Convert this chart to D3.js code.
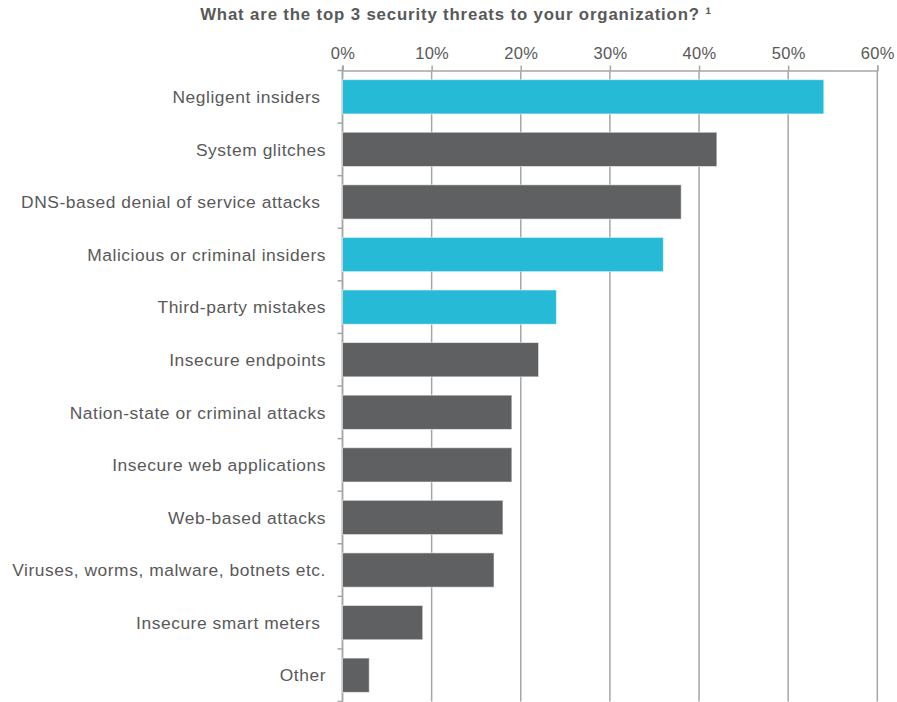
<!DOCTYPE html>
<html>
<head>
<meta charset="utf-8">
<script src="https://cdn.jsdelivr.net/npm/d3@7"></script>
<style>
  html, body { margin: 0; padding: 0; background: #ffffff; }
  svg { display: block; }
  text { font-family: "Liberation Sans", Arial, sans-serif; fill: #595959; }
</style>
</head>
<body>
<svg id="chart" width="897" height="702"></svg>
<script>
const title = "What are the top 3 security threats to your organization? \u00B9";
const categories = [
  "Negligent insiders ",
  "System glitches",
  "DNS-based denial of service attacks ",
  "Malicious or criminal insiders",
  "Third-party mistakes",
  "Insecure endpoints",
  "Nation-state or criminal attacks",
  "Insecure web applications",
  "Web-based attacks",
  "Viruses, worms, malware, botnets etc.",
  "Insecure smart meters ",
  "Other"
];
const values = [0.54, 0.42, 0.38, 0.36, 0.24, 0.22, 0.19, 0.19, 0.18, 0.17, 0.09, 0.03];
const highlighted = ["Negligent insiders ", "Malicious or criminal insiders", "Third-party mistakes"];
const tickValues = [0, 0.1, 0.2, 0.3, 0.4, 0.5, 0.6];

const data = categories.map((c, i) => ({ cat: c, value: values[i] }));

const svg = d3.select("#chart");
const mLeft = 342.5, mRight = 877.3, mTop = 70.5, mBottom = 701.5;

const x = d3.scaleLinear().domain([0, 0.6]).range([mLeft, mRight]);
const y = d3.scaleBand().domain(categories).range([mTop, mBottom])
  .paddingInner(0.348).paddingOuter(0.174);

// title
svg.append("text")
  .attr("x", 456).attr("y", 20)
  .attr("text-anchor", "middle")
  .style("font-weight", "bold")
  .style("font-size", "16.8px")
  .style("letter-spacing", "0.85px")
  .text(title);

// vertical gridlines
svg.append("g").selectAll("line").data(tickValues).join("line")
  .attr("x1", d => x(d)).attr("x2", d => x(d))
  .attr("y1", mTop).attr("y2", mBottom)
  .attr("stroke", "#a6a6a6").attr("stroke-width", 1.5);

// top axis
const xAxis = d3.axisTop(x).tickValues(tickValues)
  .tickFormat(d3.format(".0%")).tickSize(5).tickPadding(7);
const gx = svg.append("g").attr("transform", `translate(0,${mTop})`).call(xAxis);
gx.select(".domain").attr("stroke", "#a6a6a6").attr("stroke-width", 1.5);
gx.selectAll(".tick line").attr("stroke", "#a6a6a6").attr("stroke-width", 1.5);
gx.selectAll(".tick text")
  .style("font-family", "'Liberation Sans', Arial, sans-serif")
  .style("font-size", "16.5px").style("letter-spacing", "0.3px")
  .attr("fill", "#595959");

// left category axis line + ticks at band boundaries
const boundaries = d3.range(categories.length + 1).map(i => mTop + i * y.step());
svg.append("line")
  .attr("x1", mLeft).attr("x2", mLeft).attr("y1", mTop - 4).attr("y2", mBottom)
  .attr("stroke", "#a6a6a6").attr("stroke-width", 1.5);
svg.append("g").selectAll("line").data(boundaries).join("line")
  .attr("x1", mLeft - 5).attr("x2", mLeft)
  .attr("y1", d => d).attr("y2", d => d)
  .attr("stroke", "#a6a6a6").attr("stroke-width", 1.5);

// bars
svg.append("g").selectAll("rect").data(data).join("rect")
  .attr("x", x(0))
  .attr("y", d => y(d.cat))
  .attr("width", d => x(d.value) - x(0))
  .attr("height", y.bandwidth())
  .attr("fill", d => highlighted.includes(d.cat) ? "#27bad7" : "#5f6062")
  .attr("stroke", "rgba(255,255,255,0.55)")
  .attr("stroke-width", 1);

// category labels
svg.append("g").selectAll("text").data(data).join("text")
  .attr("x", 326)
  .attr("y", d => y(d.cat) + y.bandwidth() / 2)
  .attr("dy", "0.36em")
  .attr("text-anchor", "end")
  .style("white-space", "pre")
  .style("font-size", "17.4px")
  .style("letter-spacing", "0.55px")
  .text(d => d.cat);
</script>
</body>
</html>
